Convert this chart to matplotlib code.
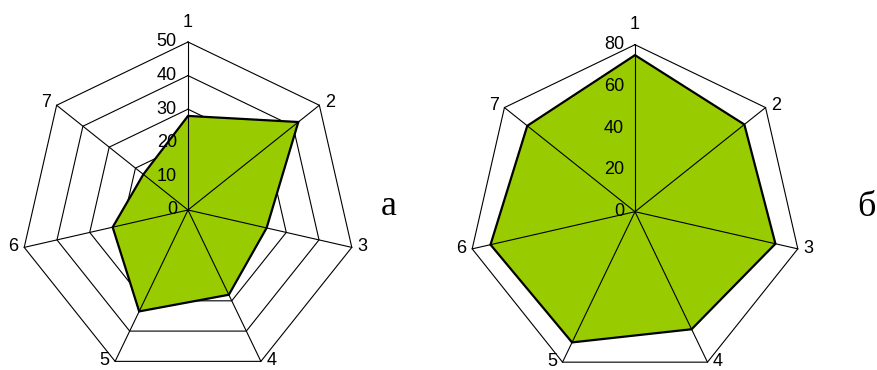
import numpy as np
import matplotlib.pyplot as plt

plt.rcParams['font.family'] = ['Liberation Sans', 'DejaVu Sans']

# data
categories = ['1', '2', '3', '4', '5', '6', '7']
values_a = [28, 42, 24, 28, 33.5, 23, 17]
values_b = [75, 67, 69, 62.5, 69.5, 71, 66]
ticks_a = [0, 10, 20, 30, 40, 50]
ticks_b = [0, 20, 40, 60, 80]

W, H = 878, 370
fig = plt.figure(figsize=(W / 100, H / 100), dpi=100)


def radar(rect, center, px_per_unit, values, ticks):
    ax = fig.add_axes(rect)
    x0, w = rect[0] * W, rect[2] * W
    cx, cy = center
    ax.set_xlim((x0 - cx) / px_per_unit, (x0 + w - cx) / px_per_unit)
    ax.set_ylim((cy - H) / px_per_unit, cy / px_per_unit)
    ax.axis('off')

    n = len(categories)
    ang = np.arange(n) * 2 * np.pi / n
    sx, sy = np.sin(ang), np.cos(ang)
    rmax = ticks[-1]
    vals = np.array(values)

    # heptagon rings (under the fill)
    for t in ticks[1:]:
        ax.plot(np.append(sx, sx[0]) * t, np.append(sy, sy[0]) * t,
                color='black', lw=0.8, zorder=1)

    ax.fill(sx * vals, sy * vals, facecolor='#99cc00', edgecolor='black',
            lw=1.6, zorder=2)

    # spokes drawn over the fill
    for i in range(n):
        ax.plot([0, sx[i] * rmax], [0, sy[i] * rmax], color='black', lw=0.8, zorder=3)
        if i == 0:
            ax.annotate(categories[i], xy=(0, rmax), xytext=(0, 11),
                        textcoords='offset points', ha='center', va='baseline',
                        fontsize=13)
        else:
            side = 1 if sx[i] > 0 else -1
            dy = max(sy[i] * 2 + 0.5, 0.3)  # keep bottom labels inside the figure
            ax.annotate(categories[i], xy=(sx[i] * rmax, sy[i] * rmax),
                        xytext=(side * 4, dy), textcoords='offset points',
                        ha='left' if side > 0 else 'right', va='center', fontsize=13)

    # value labels along axis 1
    for t in ticks:
        ax.annotate(str(t), xy=(0, t), xytext=(-8, 0), textcoords='offset points',
                    ha='right', va='center', fontsize=13, zorder=4)
    return ax


radar([0, 0, 440 / W, 1], (188, 210), 168 / 50, values_a, ticks_a)
radar([440 / W, 0, 438 / W, 1], (635, 211.7), 167 / 80, values_b, ticks_b)

fig.text(389 / W, 1 - 215 / H, 'а', fontfamily='Liberation Serif', fontsize=26,
         ha='center', va='baseline')
fig.text(866 / W, 1 - 216 / H, 'б', fontfamily='Liberation Serif', fontsize=26,
         ha='center', va='baseline')

fig.savefig('out.png', dpi=100)
